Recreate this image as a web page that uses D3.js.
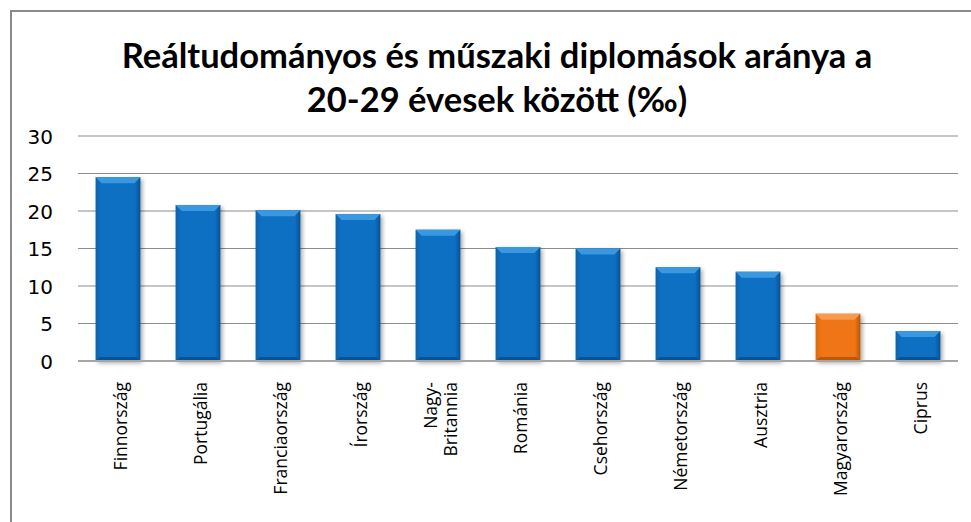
<!DOCTYPE html>
<html><head><meta charset="utf-8">
<script src="https://cdn.jsdelivr.net/npm/d3@7"></script>
<style>body{margin:0;background:#fff}svg{display:block}</style>
</head><body>
<script>
const titleLines = ["Reáltudományos és műszaki diplomások aránya a", "20-29 évesek között (‰)"];
const categories = ["Finnország","Portugália","Franciaország","Írország","Nagy-\nBritannia","Románia","Csehország","Németország","Ausztria","Magyarország","Ciprus"];
const values = [24.5, 20.8, 20.1, 19.6, 17.5, 15.2, 15.0, 12.5, 11.9, 6.3, 4.0];
const highlight = ["Magyarország"];
const yTicks = [0,5,10,15,20,25,30];

const W = 971, H = 522;
const svg = d3.select("body").append("svg").attr("width", W).attr("height", H);
const defs = svg.append("defs");

function grad(id, c1, c2, c3){
  const g = defs.append("linearGradient").attr("id", id).attr("x1",0).attr("x2",1).attr("y1",0).attr("y2",0);
  g.append("stop").attr("offset","0%").attr("stop-color",c3);
  g.append("stop").attr("offset","12%").attr("stop-color",c1);
  g.append("stop").attr("offset","88%").attr("stop-color",c1);
  g.append("stop").attr("offset","100%").attr("stop-color",c2);
}
grad("gBlue", "#0A6FC2", "#07508F", "#0A62AE");
grad("gOrange", "#EF7412", "#B4570E", "#DA6A10");
const f = defs.append("filter").attr("id","sh").attr("x","-20%").attr("y","-10%").attr("width","150%").attr("height","130%");
f.append("feDropShadow").attr("dx",2).attr("dy",2).attr("stdDeviation",2).attr("flood-color","#000").attr("flood-opacity",0.35);

// frame
svg.append("path").attr("d", `M11,${H} L11,11 L${W},11`).attr("fill","none").attr("stroke","#8a8a8a").attr("stroke-width",2);

// title
svg.append("g").selectAll("text").data(titleLines).join("text")
  .attr("x", 497).attr("y", (d,i)=> 68 + i*44)
  .attr("text-anchor","middle")
  .attr("font-family","Lato, 'Open Sans', sans-serif").attr("font-weight","bold").attr("font-size", 34.5)
  .attr("fill","#000").text(d=>d);

const x = d3.scaleBand().domain(categories).range([78, 958]).paddingInner(0.44).paddingOuter(0.22);
const y = d3.scaleLinear().domain([0,30]).range([361, 136]);

// gridlines
svg.append("g").selectAll("line").data(yTicks.filter(t=>t>0)).join("line")
  .attr("x1",78).attr("x2",958).attr("y1",d=>y(d)).attr("y2",d=>y(d))
  .attr("stroke","#8c8c8c").attr("stroke-width",1.2);

// y axis labels
const yAxis = d3.axisLeft(y).tickValues(yTicks).tickSize(0).tickPadding(0);
const ya = svg.append("g").attr("transform","translate(53,0)").call(yAxis);
ya.select(".domain").remove();
ya.selectAll("text").attr("font-family","'DejaVu Sans', Verdana, sans-serif").attr("font-size",20).attr("fill","#000").attr("dy","0.36em");

// bars
const bars = svg.append("g").selectAll("g").data(categories).join("g");
bars.append("rect")
  .attr("x", d=>x(d)).attr("width", x.bandwidth())
  .attr("y", (d,i)=>y(values[i])).attr("height",(d,i)=>y(0)-y(values[i]))
  .attr("fill", d=> highlight.includes(d) ? "url(#gOrange)" : "url(#gBlue)")
  .attr("filter","url(#sh)");
// top bevel
bars.append("path")
  .attr("d",(d,i)=>{const x0=x(d), x1=x0+x.bandwidth(), t=y(values[i]), b=6;
    return `M${x0},${t} L${x1},${t} L${x1-b},${t+b} L${x0+b},${t+b} Z`;})
  .attr("fill", d=> highlight.includes(d) ? "#F59A4E" : "#3A98E0");
// bottom bevel
bars.append("path")
  .attr("d",(d,i)=>{const x0=x(d), x1=x0+x.bandwidth(), bt=y(0), b=4;
    return `M${x0},${bt} L${x1},${bt} L${x1-b},${bt-b} L${x0+b},${bt-b} Z`;})
  .attr("fill", d=> highlight.includes(d) ? "#A9520D" : "#064C86").attr("opacity",0.8);

// x axis line
svg.append("line").attr("x1",78).attr("x2",958).attr("y1",y(0)).attr("y2",y(0))
  .attr("stroke","#a6a6a6").attr("stroke-width",2);

// category labels
const lab = svg.append("g").selectAll("text").data(categories).join("text")
  .attr("transform", d=>{const lines=d.split("\n").length; return `translate(${x(d)+x.bandwidth()/2 + 9 - (lines-1)*10},382) rotate(-90)`;})
  .attr("text-anchor","end")
  .attr("font-family","'Open Sans', sans-serif").attr("font-size",17.5).attr("fill","#000");
lab.each(function(d){
  const parts = d.split("\n");
  d3.select(this).selectAll("tspan").data(parts).join("tspan")
    .attr("x",0).attr("dy",(p,i)=> i===0 ? 0 : "1.15em").text(p=>p);
});
</script>
</body></html>
